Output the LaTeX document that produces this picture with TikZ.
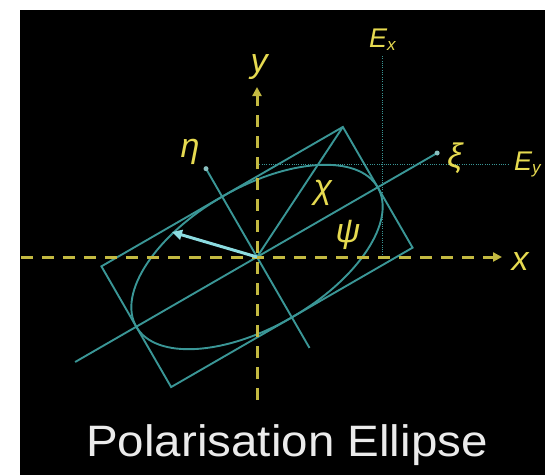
\documentclass[tikz,border=0pt]{standalone}
\usepackage{fontspec}
\setmainfont{Liberation Sans}
\usetikzlibrary{arrows.meta}
\definecolor{axisyellow}{RGB}{195,185,65}
\definecolor{labelyellow}{RGB}{230,218,80}
\definecolor{tealline}{RGB}{58,150,150}
\definecolor{vecc}{RGB}{140,220,225}
\definecolor{titlec}{RGB}{235,235,235}
\begin{document}
\begin{tikzpicture}[x=1pt,y=1pt,
  axisline/.style={axisyellow, line width=3pt, dash pattern=on 12pt off 9pt, -{Triangle[length=9pt,width=9pt]}},
  geo/.style={tealline, line width=1.9pt},
  guide/.style={tealline, line width=1.2pt, dash pattern=on 1pt off 1.3pt},
  vec/.style={vecc, line width=3pt, -{Triangle[length=10pt,width=10pt]}},
  lab/.style={labelyellow, font=\itshape\fontsize{34}{34}\selectfont, inner sep=0pt},
  sublab/.style={labelyellow, font=\itshape\fontsize{27}{27}\selectfont, inner sep=0pt},
  enddot/.style={circle, fill=tealline!60!white, inner sep=0pt, minimum size=5pt},
  titletext/.style={titlec, font=\fontsize{44}{44}\selectfont, inner sep=0pt, anchor=base}
]
\useasboundingbox (-257,-218) rectangle (288,257);
\fill[white] (-257,-218) rectangle (288,257);
\fill[black] (-237,-218) rectangle (288,247);

\coordinate (O) at (0,0);
\begin{scope}[rotate=30]
  \draw[geo] (-139.4,-69.7) rectangle (139.4,69.7);
  \draw[geo] (0,0) ellipse [x radius=139.4, y radius=69.7];
  \coordinate (xiS) at (-210,0);
  \coordinate (xiE) at (208,0);
  \coordinate (etaS) at (0,-105);
  \coordinate (etaE) at (0,102);
  \coordinate (C) at (139.4,69.7);
\end{scope}

% guide lines for E_x and E_y
\coordinate (ExB) at (125.4,0);
\coordinate (ExT) at (125.4,202);
\coordinate (EyL) at (0,92.2);
\coordinate (EyR) at (251,92.2);
\draw[guide] (ExB) -- (ExT);
\draw[guide] (EyL) -- (EyR);

% principal axes
\draw[geo] (xiS) -- (xiE);
\node[enddot] (xidot) at (xiE) {};
\draw[geo] (etaS) -- (etaE);
\node[enddot] (etadot) at (etaE) {};
\draw[geo] (O) -- (C);

% coordinate axes
\coordinate (xL) at (-236,0);
\coordinate (xR) at (245,0);
\coordinate (yB) at (0,-143);
\coordinate (yT) at (0,170);
\draw[axisline] (xL) -- (xR);
\draw[axisline] (yB) -- (yT);

% field vector
\coordinate (P) at (-85,25);
\draw[vec] (O) -- (P);

% labels
\node[lab] (etalab) at (-67,105) {η};
\node[lab] (xilab) at (198,99) {ξ};
\node[lab] (chilab) at (66,64) {χ};
\node[lab] (psilab) at (91,22) {ψ};
\node[lab] (ylab) at (2,190) {y};
\node[lab] (xlab) at (263,-5) {x};
\node[sublab, anchor=west] (Exlab) at (112,217) {E\raisebox{-3pt}{\fontsize{17}{17}\selectfont x}};
\node[sublab, anchor=west] (Eylab) at (257,93) {E\raisebox{-3pt}{\fontsize{17}{17}\selectfont y}};

% title
\node[titletext] (title) at (30,-199.7) {\scalebox{1.08}[1]{Polarisation Ellipse}};
\end{tikzpicture}
\end{document}
